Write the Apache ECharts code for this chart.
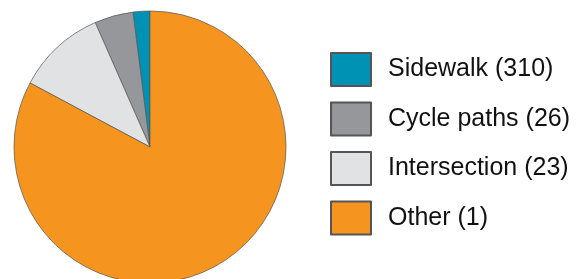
<!DOCTYPE html>
<html>
<head>
<meta charset="utf-8">
<script src="https://cdn.jsdelivr.net/npm/echarts@6/dist/echarts.min.js"></script>
<style>
  html, body { margin: 0; padding: 0; background: #fff; }
  #chart { width: 577px; height: 279px; }
</style>
</head>
<body>
<div id="chart"></div>
<script>
// legend labels as printed, slice shares (percent)
var categories = ['Sidewalk (310)', 'Cycle paths (26)', 'Intersection (23)', 'Other (1)'];
var shares = [2.0, 4.6, 10.6, 82.8];
var colors = ['#0092b4', '#96979a', '#e1e2e4', '#f5951f'];

var seriesData = [];
for (var i = 0; i < categories.length; i++) {
    seriesData.push({
        name: categories[i],
        value: shares[i],
        itemStyle: { color: colors[i] }
    });
}

var myChart = echarts.init(document.getElementById('chart'));
var option = {
    animation: false,
    legend: {
        orient: 'vertical',
        left: 325,
        top: 47,
        itemWidth: 40,
        itemHeight: 33,
        itemGap: 14.5,
        icon: 'rect',
        data: categories,
        textStyle: {
            fontFamily: "'Liberation Sans', Arial, sans-serif",
            fontSize: 25,
            color: '#111',
            padding: [0, 0, 0, 12]
        }
    },
    series: [
        {
            type: 'pie',
            center: [150, 147],
            radius: 136,
            startAngle: 90,
            clockwise: false,
            label: { show: false },
            labelLine: { show: false },
            itemStyle: { borderColor: '#555', borderWidth: 0.7 },
            emphasis: { disabled: true },
            data: seriesData
        }
    ]
};
myChart.setOption(option);
</script>
</body>
</html>
